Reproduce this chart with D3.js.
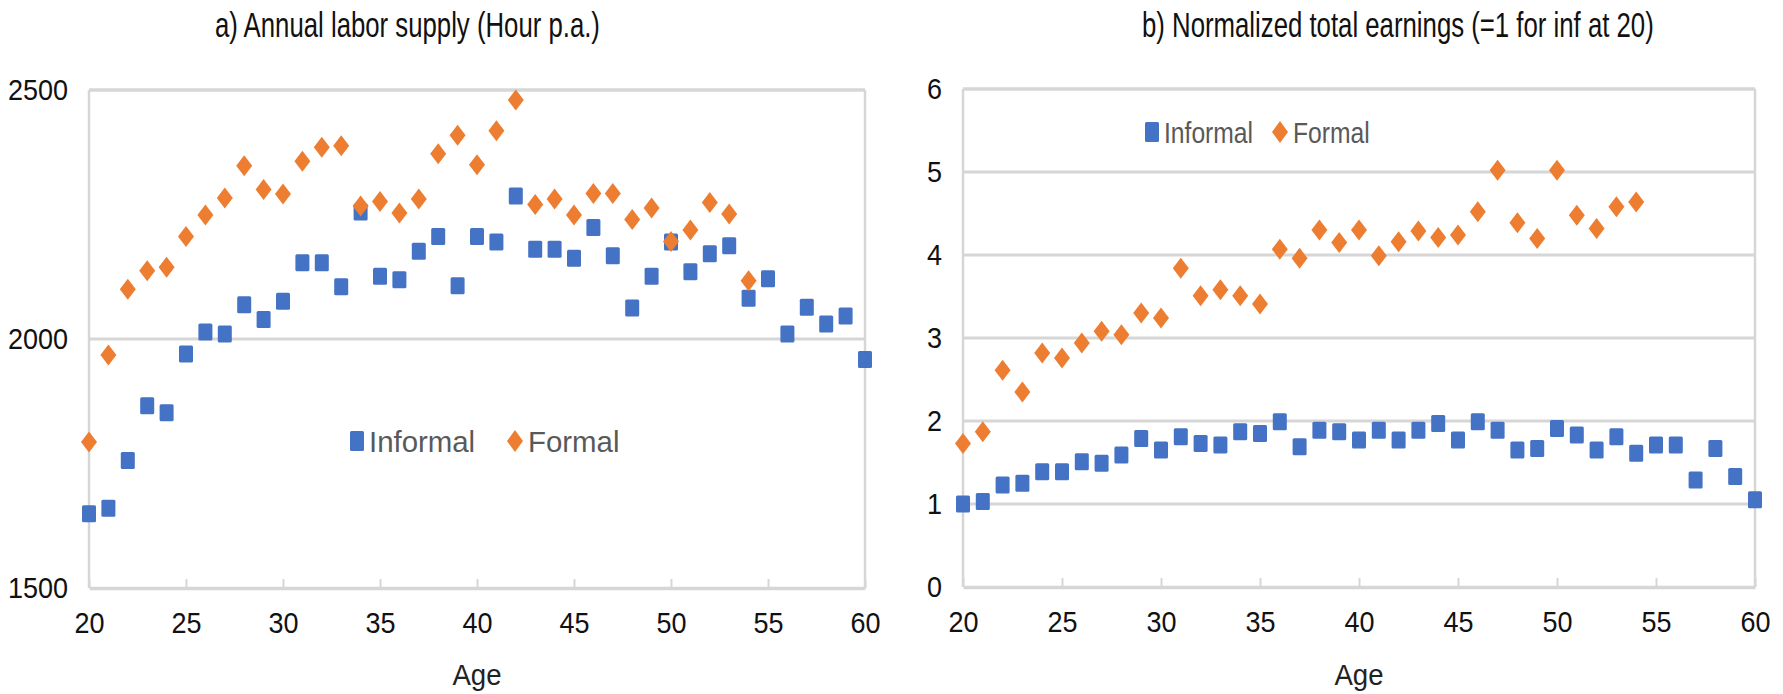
<!DOCTYPE html>
<html>
<head>
<meta charset="utf-8">
<script src="https://cdn.jsdelivr.net/npm/d3@7"></script>
<style>
  body { margin: 0; background: #fff; }
  svg { display: block; font-family: "Liberation Sans", Arial, sans-serif; }
</style>
</head>
<body>
<div id="chart"></div>
<script>
// ages
var agesAll = d3.range(20, 61);
var agesFormal = d3.range(20, 55);

// panel a) annual hours
var hoursInformal = [1649, 1660, 1756, 1866, 1852, 1970, 2014, 2010, 2069, 2039,
  2076, 2153, 2153, 2105, 2255, 2126, 2119, 2176, 2206, 2107,
  2206, 2195, 2287, 2180, 2180, 2162, 2224, 2167, 2062, 2126,
  2195, 2135, 2171, 2187, 2082, 2121, 2010, 2064, 2030, 2046, 1959];
var hoursFormal = [1793, 1968, 2100, 2137, 2144, 2206, 2249, 2283, 2348, 2300,
  2291, 2357, 2385, 2388, 2267, 2276, 2253, 2281, 2372, 2409,
  2350, 2418, 2480, 2270, 2281, 2249, 2292, 2292, 2240, 2263,
  2196, 2219, 2274, 2251, 2117];

// panel b) normalized earnings
var earnInformal = [1.00, 1.03, 1.23, 1.25, 1.39, 1.39, 1.51, 1.49, 1.59, 1.79,
  1.65, 1.81, 1.73, 1.71, 1.87, 1.85, 1.99, 1.69, 1.89, 1.87,
  1.77, 1.89, 1.77, 1.89, 1.97, 1.77, 1.99, 1.89, 1.65, 1.67,
  1.91, 1.83, 1.65, 1.81, 1.61, 1.71, 1.71, 1.29, 1.67, 1.33, 1.05];
var earnFormal = [1.73, 1.87, 2.61, 2.35, 2.82, 2.76, 2.94, 3.08, 3.04, 3.30,
  3.24, 3.84, 3.51, 3.58, 3.51, 3.41, 4.07, 3.96, 4.30, 4.15,
  4.30, 3.99, 4.16, 4.29, 4.21, 4.24, 4.52, 5.02, 4.39, 4.20,
  5.02, 4.48, 4.32, 4.58, 4.64];

var xTicks = [20, 25, 30, 35, 40, 45, 50, 55, 60];
var hourTicks = [1500, 2000, 2500];
var earnTicks = [0, 1, 2, 3, 4, 5, 6];
var seriesNames = ["Informal", "Formal"];

var blue = "#4472C4", orange = "#ED7D31";
var grid = "#d6d6d6";

var svg = d3.select("#chart").append("svg")
  .attr("width", 1783)
  .attr("height", 694);

function diamond(w, h) {
  return "M0," + (-h / 2) + "L" + (w / 2) + ",0L0," + (h / 2) + "L" + (-w / 2) + ",0Z";
}

// text squeezed horizontally, like the narrow font of the original
function narrowText(g, x, y, str, size, sx, fill) {
  return g.append("text")
    .attr("transform", "translate(" + x + "," + y + ") scale(" + sx + ",1)")
    .style("font-size", size + "px")
    .attr("fill", fill)
    .text(str);
}

function panel(opt) {
  var x = d3.scaleLinear().domain([20, 60]).range([opt.left, opt.right]);
  var y = d3.scaleLinear().domain(opt.yDomain).range([opt.bottom, opt.top]);
  var g = svg.append("g");

  // gridlines
  g.append("g").selectAll("line")
    .data(opt.yTicks.slice(1))
    .join("line")
    .attr("x1", opt.left).attr("x2", opt.right)
    .attr("y1", d => y(d)).attr("y2", d => y(d))
    .attr("stroke", grid)
    .attr("stroke-width", (d, i, n) => i == n.length - 1 ? 3.5 : 3);

  // side borders
  g.append("line")
    .attr("x1", opt.left).attr("x2", opt.left)
    .attr("y1", opt.top).attr("y2", opt.bottom)
    .attr("stroke", grid).attr("stroke-width", 2.5);
  g.append("line")
    .attr("x1", opt.right).attr("x2", opt.right)
    .attr("y1", opt.top).attr("y2", opt.bottom)
    .attr("stroke", grid).attr("stroke-width", 2.5);

  // x axis, ticks pointing inwards
  var xa = g.append("g")
    .attr("transform", "translate(0," + opt.bottom + ")")
    .call(d3.axisBottom(x).tickValues(xTicks).tickFormat(d3.format("d"))
      .tickSizeInner(-9).tickSizeOuter(0).tickPadding(24));
  xa.select(".domain").attr("stroke", grid).attr("stroke-width", 3.5);
  xa.selectAll(".tick line").attr("stroke", grid).attr("stroke-width", 2);
  xa.selectAll("text")
    .attr("fill", "#111")
    .style("font-size", "30px")
    .attr("transform", "scale(0.9,1)");

  // y axis
  var ya = g.append("g")
    .attr("transform", "translate(" + opt.left + ",0)")
    .call(d3.axisLeft(y).tickValues(opt.yTicks).tickFormat(d3.format("d"))
      .tickSize(0).tickPadding(0));
  ya.select(".domain").remove();
  ya.selectAll("text")
    .attr("fill", "#111")
    .attr("x", 0)
    .style("font-size", "30px")
    .attr("transform", "translate(-21,0) scale(0.9,1)");

  // axis title
  narrowText(g, (opt.left + opt.right) / 2, 685, "Age", 30, 0.92, "#222")
    .attr("text-anchor", "middle");

  // chart title, squeezed to the width of the original
  var t = narrowText(g, opt.titleX, 37, opt.title, 35, 1, "#111");
  var w = t.node().getComputedTextLength();
  t.attr("transform", "translate(" + opt.titleX + ",37) scale(" + (opt.titleW / w) + ",1)");

  // informal squares
  g.append("g").selectAll("rect")
    .data(agesAll.map((a, i) => [a, opt.informal[i]]))
    .join("rect")
    .attr("x", d => x(d[0]) - 7)
    .attr("y", d => y(d[1]) - 8.5)
    .attr("width", 14).attr("height", 17)
    .attr("rx", 1.5)
    .attr("fill", blue);

  // formal diamonds
  g.append("g").selectAll("path")
    .data(agesFormal.map((a, i) => [a, opt.formal[i]]))
    .join("path")
    .attr("d", diamond(16, 21))
    .attr("transform", d => "translate(" + x(d[0]) + "," + y(d[1]) + ")")
    .attr("fill", orange);

  // legend
  var lg = g.append("g").attr("transform", "translate(" + opt.legX + "," + opt.legY + ")");
  lg.append("rect")
    .attr("x", -7).attr("y", -10).attr("width", 14).attr("height", 20)
    .attr("rx", 1.5).attr("fill", blue);
  narrowText(lg, 12, 11, seriesNames[0], opt.legFont, opt.legScale, "#595959");
  lg.append("path")
    .attr("d", diamond(16, 22))
    .attr("transform", "translate(" + opt.legGap + ",0)")
    .attr("fill", orange);
  narrowText(lg, opt.legGap + 13, 11, seriesNames[1], opt.legFont, opt.legScale, "#595959");
}

panel({
  left: 89, right: 865, top: 90, bottom: 588,
  yDomain: [1500, 2500], yTicks: hourTicks,
  informal: hoursInformal, formal: hoursFormal,
  title: "a) Annual labor supply (Hour p.a.)", titleX: 215, titleW: 385,
  legX: 357, legY: 441, legGap: 158, legFont: 30, legScale: 0.98
});

panel({
  left: 963, right: 1755, top: 89, bottom: 587,
  yDomain: [0, 6], yTicks: earnTicks,
  informal: earnInformal, formal: earnFormal,
  title: "b) Normalized total earnings (=1 for inf at 20)", titleX: 1142, titleW: 512,
  legX: 1152, legY: 132, legGap: 128, legFont: 29, legScale: 0.85
});
</script>
</body>
</html>
